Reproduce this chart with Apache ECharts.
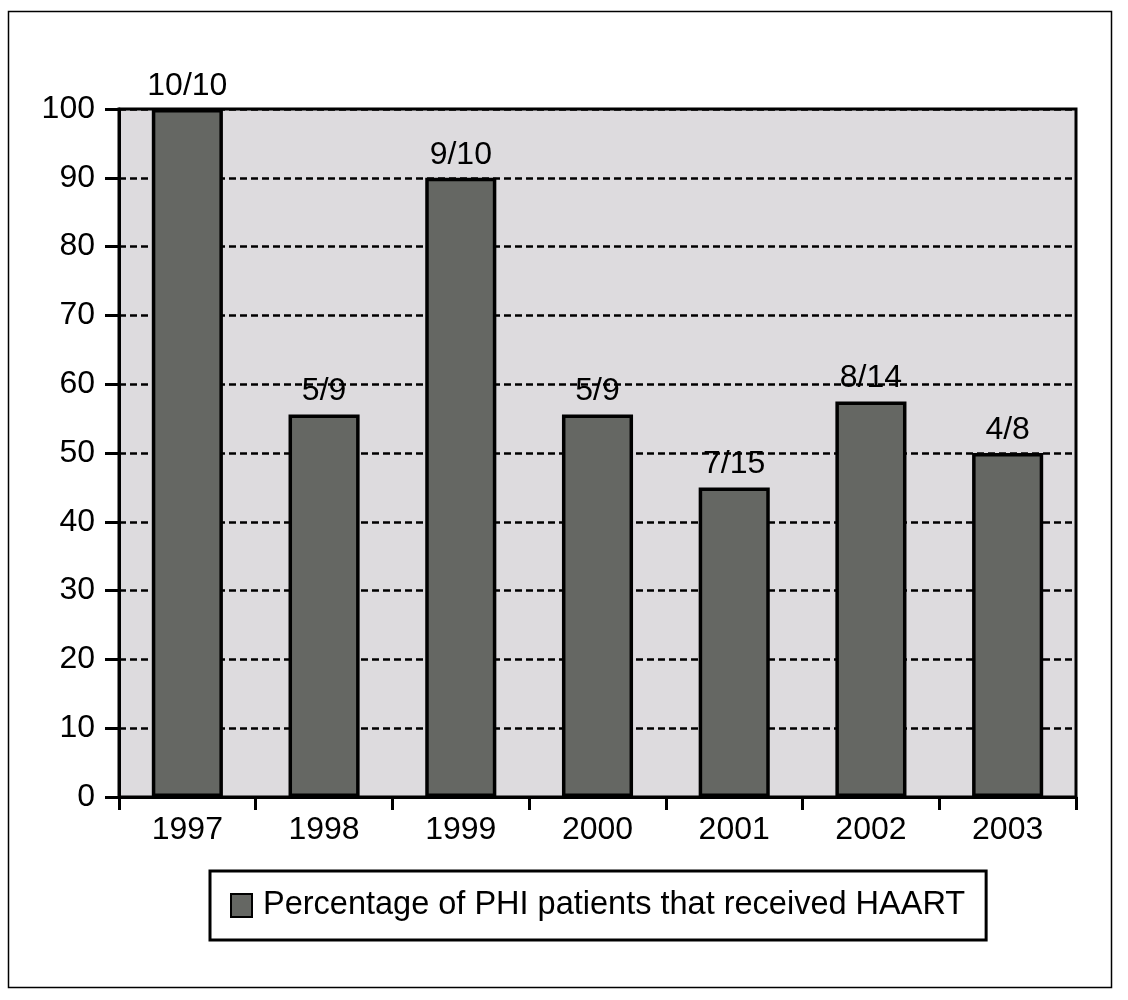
<!DOCTYPE html>
<html>
<head>
<meta charset="utf-8">
<script src="https://cdn.jsdelivr.net/npm/echarts@6/dist/echarts.min.js"></script>
<style>html,body{margin:0;padding:0;background:#fff;}#c{width:1128px;height:1000px;}</style>
</head>
<body>
<div id="c"></div>
<script>
var categories = ['1997', '1998', '1999', '2000', '2001', '2002', '2003'];
var values = [100, 55.6, 90, 55.6, 45, 57.5, 50];
var fractionLabels = ['10/10', '5/9', '9/10', '5/9', '7/15', '8/14', '4/8'];
var seriesName = 'Percentage of PHI patients that received HAART';

var font = 'Liberation Sans, Arial, Helvetica, sans-serif';
var chart = echarts.init(document.getElementById('c'), null, {renderer: 'canvas'});
chart.setOption({
  backgroundColor: '#ffffff',
  animation: false,
  textStyle: {fontFamily: font},
  graphic: [{
    type: 'rect', z: -10, silent: true,
    shape: {x: 8.5, y: 11.5, width: 1103, height: 976},
    style: {fill: 'none', stroke: '#000', lineWidth: 1.5}
  }],
  grid: {
    left: 119, right: 52, top: 109, bottom: 203,
    show: true, backgroundColor: '#dddbde', borderColor: '#000', borderWidth: 3
  },
  legend: {
    data: [seriesName],
    left: 210, top: 871,
    padding: [18, 21, 18, 20],
    borderColor: '#000', borderWidth: 3,
    itemWidth: 21, itemHeight: 23,
    icon: 'rect',
    textStyle: {fontSize: 32.5, color: '#000', fontFamily: font, padding: [0, 0, 0, 6]}
  },
  xAxis: {
    type: 'category',
    data: categories,
    axisLine: {show: true, lineStyle: {color: '#000', width: 3}},
    axisTick: {show: true, length: 13, lineStyle: {color: '#000', width: 3}},
    axisLabel: {fontSize: 32, color: '#000', margin: 17, fontFamily: font},
    splitLine: {show: false}
  },
  yAxis: {
    type: 'value',
    min: 0, max: 100, interval: 10,
    axisLine: {show: true, lineStyle: {color: '#000', width: 3}},
    axisTick: {show: true, length: 14, lineStyle: {color: '#000', width: 3}},
    axisLabel: {fontSize: 32, color: '#000', margin: 24, fontFamily: font},
    splitLine: {show: true, lineStyle: {color: '#000', width: 2.5, type: [7, 4]}}
  },
  series: [{
    name: seriesName,
    type: 'bar',
    data: values,
    barWidth: '52%',
    itemStyle: {color: '#656763', borderColor: '#000', borderWidth: 3.5},
    label: {
      show: true, position: 'top', distance: 7,
      fontSize: 32, color: '#000', fontFamily: font,
      formatter: function (p) { return fractionLabels[p.dataIndex]; }
    }
  }]
});
</script>
</body>
</html>
